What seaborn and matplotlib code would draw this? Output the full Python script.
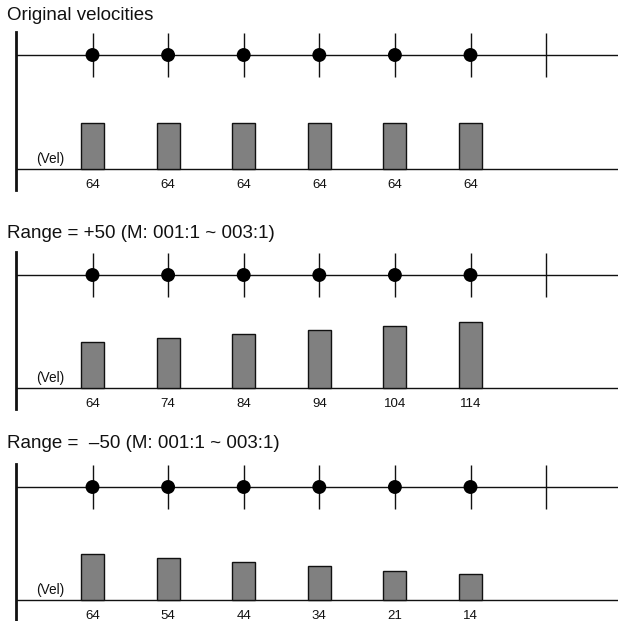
import matplotlib
matplotlib.use("Agg")
import matplotlib.pyplot as plt
import seaborn as sns

# ---- data -------------------------------------------------------------
titles = [
    "Original velocities",
    "Range = +50 (M: 001:1 ~ 003:1)",
    "Range =  \u201350 (M: 001:1 ~ 003:1)",
]
original_vel = [64, 64, 64, 64, 64, 64]
plus50_vel = [64, 74, 84, 94, 104, 114]
minus50_vel = [64, 54, 44, 34, 21, 14]
note_pos = [0, 1, 2, 3, 4, 5]
barline_pos = [6]
vel_label = "(Vel)"

# ---- styling / layout (pixels) ----------------------------------------
W, H = 618, 621
sns.set_theme(style="white")
plt.rcParams["font.family"] = ["Liberation Sans", "DejaVu Sans"]

INK = "#111111"
BAR_FACE = "#808080"
X_LEFT, X_RIGHT = 16, 618       # panel frame in pixels
X0, DX = 92.5, 75.6             # pixel centre of first note, note spacing
PX_PER_UNIT = 0.4               # vertical pixels per velocity unit
BASE = -51                      # velocity level sitting on the baseline

def fx(px):
    return px / W

def fy(py):
    return 1 - py / H

# title y, staff y, baseline y, frame bottom y
panels = [
    (titles[0], original_vel, 15, 55, 169, 190),
    (titles[1], plus50_vel, 232, 275, 388, 409),
    (titles[2], minus50_vel, 443, 487, 600, 621),
]

fig = plt.figure(figsize=(W / 100, H / 100), dpi=100)
xlim = ((X_LEFT - X0) / DX, (X_RIGHT - X0) / DX)

for title, vels, t_y, staff_y, base_y, bot_y in panels:
    top_y = staff_y - 23

    # velocity bars
    ax = fig.add_axes([fx(X_LEFT), fy(bot_y), fx(X_RIGHT - X_LEFT),
                       (bot_y - top_y) / H])
    ax.set_facecolor("none")
    sns.barplot(x=note_pos, y=vels, native_scale=True, orient="x",
                width=23 / DX, color=BAR_FACE, saturation=1,
                edgecolor=INK, linewidth=1.0, errorbar=None, ax=ax,
                zorder=2)
    # bars rise from the baseline level up to their velocity value
    for p in ax.patches:
        top = p.get_y() + p.get_height()
        p.set_y(BASE)
        p.set_height(top - BASE)
    ax.set_xlim(*xlim)
    ax.set_ylim(BASE - (bot_y - base_y) / PX_PER_UNIT,
                BASE + (base_y - top_y) / PX_PER_UNIT)
    ax.axhline(BASE, color=INK, lw=1.0, zorder=1)
    for s in ("top", "right", "bottom"):
        ax.spines[s].set_visible(False)
    ax.spines["left"].set_color(INK)
    ax.spines["left"].set_linewidth(2.0)
    ax.set_xticks([])
    ax.set_yticks([])
    ax.set_xlabel("")
    ax.set_ylabel("")

    for x, v in zip(note_pos, vels):
        ax.annotate(str(v), (x, BASE), xytext=(0, -10),
                    textcoords="offset pixels", ha="center", va="top",
                    fontsize=9.5, color=INK)
    ax.annotate(vel_label, (xlim[0], BASE), xytext=(20, 3),
                textcoords="offset pixels", ha="left", va="bottom",
                fontsize=9.8, color=INK)

    # staff with note heads and beat ticks
    st = fig.add_axes([fx(X_LEFT), fy(staff_y + 23), fx(X_RIGHT - X_LEFT),
                       46 / H])
    st.set_facecolor("none")
    st.axhline(0, color=INK, lw=1.0, zorder=1)
    st.vlines(note_pos + barline_pos, -0.96, 0.96, color=INK, lw=1.0,
              zorder=1)
    sns.scatterplot(x=note_pos, y=[0] * len(note_pos), s=100, color="black",
                    edgecolor="none", ax=st, zorder=3, clip_on=False)
    st.set_xlim(*xlim)
    st.set_ylim(-1, 1)
    st.axis("off")

    fig.text(fx(7), fy(t_y + 1), title, ha="left", va="center",
             fontsize=13.5, color=INK)

fig.savefig("out.png", dpi=100)
